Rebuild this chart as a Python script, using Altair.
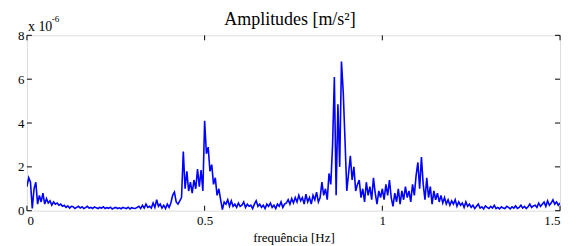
import altair as alt
import pandas as pd

step = 0.005
amplitude = [
    1.1, 1.5, 1.3, 0.1, 1.0, 1.3, 0.3, 0.7, 0.4, 0.8,
    0.3, 0.55, 0.35, 0.45, 0.25, 0.4, 0.3, 0.35, 0.25, 0.3,
    0.2,
    0.25, 0.15, 0.22, 0.12, 0.2, 0.18, 0.1, 0.15, 0.2, 0.12,
    0.18, 0.1, 0.14, 0.2, 0.12, 0.15, 0.1, 0.17, 0.13, 0.1,
    0.15, 0.12, 0.18, 0.1, 0.14, 0.11, 0.16, 0.08, 0.12, 0.15,
    0.1, 0.13, 0.09, 0.15, 0.12, 0.1, 0.16, 0.08, 0.14, 0.11,
    0.1, 0.15, 0.2, 0.1, 0.25, 0.12, 0.3, 0.15, 0.2, 0.12,
    0.35, 0.15, 0.5, 0.2, 0.3, 0.12, 0.25, 0.1, 0.3, 0.15,
    0.35, 0.7, 0.85, 0.4, 0.3, 0.45, 0.6, 2.7, 1.0, 1.8,
    0.9, 1.3, 0.8, 1.4, 1.0, 1.9, 1.1, 1.85, 0.9, 4.1,
    2.6, 2.9, 1.8, 2.1, 1.2, 1.5, 0.7, 1.0, 0.5, 0.05,
    0.4, 0.3, 0.5, 0.2, 0.45,
    0.2, 0.3, 0.15, 0.35, 0.2, 0.25, 0.4, 0.15, 0.3, 0.2,
    0.25, 0.1, 0.3, 0.45, 0.2, 0.3, 0.15, 0.25, 0.1, 0.3,
    0.2, 0.35, 0.15, 0.25, 0.1, 0.3, 0.2, 0.4, 0.15, 0.3,
    0.35, 0.5, 0.3, 0.55, 0.35, 0.6, 0.4, 0.7, 0.45, 0.6,
    0.3, 0.75, 0.4, 0.6, 0.3, 0.7, 0.5, 0.85, 0.4, 0.6,
    1.3, 0.7, 1.0, 0.5, 1.7, 1.2, 3.0, 6.1, 0.7, 4.85,
    2.0, 6.8, 5.4, 3.2, 0.9, 1.7, 2.5, 1.4, 2.0, 0.9,
    1.2, 1.4, 0.6, 1.0, 0.4, 1.3, 0.7, 1.1, 0.5, 1.5,
    0.8, 0.3, 0.9, 0.6, 1.0, 0.5, 1.2, 0.7, 1.4, 0.6,
    0.2, 0.8, 0.4, 1.0, 0.3, 0.9, 0.5, 1.1, 0.6, 0.9,
    0.4, 1.2, 0.7, 1.6, 2.2, 1.0, 2.45, 1.2, 0.5, 1.5,
    0.6, 1.1, 0.3, 0.9, 0.5, 0.8, 0.4, 0.7, 0.35, 0.6,
    0.3, 0.5, 0.25, 0.45, 0.3, 0.5, 0.2, 0.4, 0.25, 0.35,
    0.15, 0.4, 0.2, 0.3, 0.15,
    0.25, 0.1, 0.2, 0.3, 0.12, 0.18, 0.08, 0.22, 0.15, 0.1,
    0.2, 0.12, 0.25, 0.1, 0.15, 0.08, 0.18, 0.12, 0.1, 0.2,
    0.15, 0.08, 0.18, 0.12, 0.22, 0.1, 0.15, 0.25, 0.12, 0.2,
    0.1, 0.18, 0.3, 0.15, 0.22,
    0.25, 0.15, 0.35, 0.2, 0.3, 0.4, 0.2, 0.45, 0.25, 0.35,
    0.5, 0.3, 0.4, 0.25, 0.35,
]
frequency = [round(i * step, 4) for i in range(len(amplitude))]
x_ticks = [0, 0.5, 1, 1.5]
y_ticks = [0, 2, 4, 6, 8]
title_text = "Amplitudes [m/s²]"

W, H = 535, 176
FONT = "Liberation Serif"

df = pd.DataFrame({"f": frequency, "a": amplitude})
xt = pd.DataFrame({"t": x_ticks})
yt = pd.DataFrame({"t": y_ticks})

xscale = alt.Scale(domain=[0, 1.5], nice=False, zero=False)
yscale = alt.Scale(domain=[0, 8], nice=False)

line = alt.Chart(df).mark_line(color="#0000ff", strokeWidth=1.6, clip=True).encode(
    x=alt.X("f:Q", scale=xscale,
            axis=alt.Axis(values=x_ticks, format="~g", ticks=False, domain=False, grid=False,
                          labelFont=FONT, labelFontSize=13, labelColor="black", labelPadding=4,
                          title="frequência [Hz]", titleFont=FONT, titleFontSize=13,
                          titleFontWeight="normal", titleColor="black", titlePadding=4)),
    y=alt.Y("a:Q", scale=yscale,
            axis=alt.Axis(values=y_ticks, ticks=False, domain=False, grid=False,
                          labelFont=FONT, labelFontSize=13, labelColor="black", labelPadding=3,
                          title=None)),
)

tick_bottom = alt.Chart(xt).mark_rule(color="black", strokeWidth=1).encode(
    x=alt.X("t:Q", scale=xscale), y=alt.value(H), y2=alt.value(H - 5))
tick_top = alt.Chart(xt).mark_rule(color="black", strokeWidth=1).encode(
    x=alt.X("t:Q", scale=xscale), y=alt.value(0), y2=alt.value(5))
tick_left = alt.Chart(yt).mark_rule(color="black", strokeWidth=1).encode(
    y=alt.Y("t:Q", scale=yscale), x=alt.value(0), x2=alt.value(5))
tick_right = alt.Chart(yt).mark_rule(color="black", strokeWidth=1).encode(
    y=alt.Y("t:Q", scale=yscale), x=alt.value(W), x2=alt.value(W - 5))

exp_base = alt.Chart(pd.DataFrame({"s": ["x 10"]})).mark_text(
    font=FONT, fontSize=14, align="left", baseline="alphabetic", color="black").encode(
    text="s:N", x=alt.value(1), y=alt.value(-4))
exp_pow = alt.Chart(pd.DataFrame({"s": ["-6"]})).mark_text(
    font=FONT, fontSize=9, align="left", baseline="alphabetic", color="black").encode(
    text="s:N", x=alt.value(25), y=alt.value(-13))
title_mark = alt.Chart(pd.DataFrame({"s": [title_text]})).mark_text(
    font=FONT, fontSize=18, align="center", baseline="alphabetic", color="black").encode(
    text="s:N", x=alt.value(264), y=alt.value(-10))

chart = alt.layer(line, tick_bottom, tick_top, tick_left, tick_right,
                  exp_base, exp_pow, title_mark).properties(
    width=W, height=H,
    autosize=alt.AutoSizeParams(type="none"),
    padding={"left": 19, "top": 27, "right": 10, "bottom": 36},
).configure_view(stroke="black", strokeWidth=1).configure(background="white")

chart.save("out.html", embed_options={"renderer": "svg", "actions": False})
